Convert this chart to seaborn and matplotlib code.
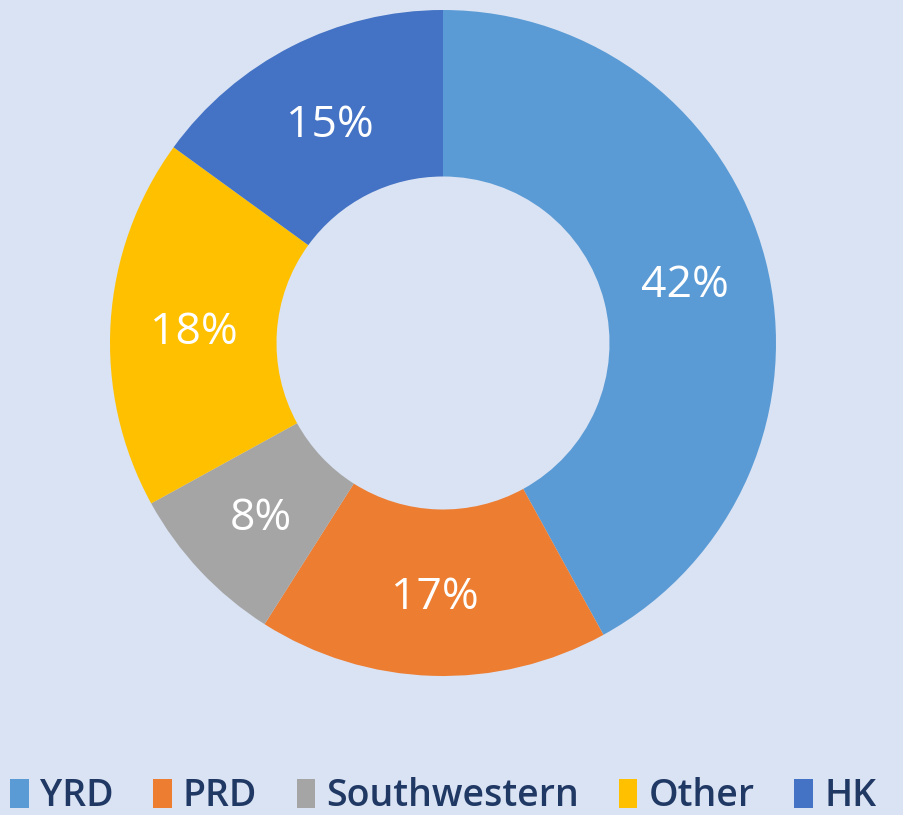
import seaborn as sns
import matplotlib.pyplot as plt

# 数据
regions = ['YRD', 'PRD', 'Southwestern', 'Other', 'HK']
shares = [42, 17, 8, 18, 15]
colors = ['#5B9BD5', '#ED7D31', '#A5A5A5', '#FFC000', '#4472C4']

sns.set_theme(style='white')
bg = '#DAE3F3'

fig = plt.figure(figsize=(9.04, 8.15), dpi=100, facecolor=bg)
# 圆心(443,343)px, 外半径333px
ax = fig.add_axes([110 / 904, (815 - 676) / 815, 666 / 904, 666 / 815])
ax.set_facecolor(bg)

wedges, texts, autotexts = ax.pie(
    shares, colors=sns.color_palette(colors), startangle=90, counterclock=False,
    radius=1, autopct='%d%%', pctdistance=0.75,
    wedgeprops=dict(width=0.5, edgecolor='none'),
    textprops=dict(color='white', fontsize=32, family=['Open Sans', 'DejaVu Sans']))
for t in autotexts:
    x, y = t.get_position()
    t.set_position((x, y - 0.015))
ax.set_xlim(-1, 1)
ax.set_ylim(-1, 1)
ax.set_aspect('equal')
ax.axis('off')

leg = fig.legend(wedges, regions, loc='lower center', ncol=5, frameon=False,
                 bbox_to_anchor=(0.49, -0.042), handlelength=0.5, handleheight=0.8,
                 handletextpad=0.3, columnspacing=1.05,
                 prop=dict(family=['Open Sans', 'DejaVu Sans'], size=27, weight='semibold'))
for t in leg.get_texts():
    t.set_color('#203864')

fig.savefig('out.png', dpi=100, facecolor=bg)
